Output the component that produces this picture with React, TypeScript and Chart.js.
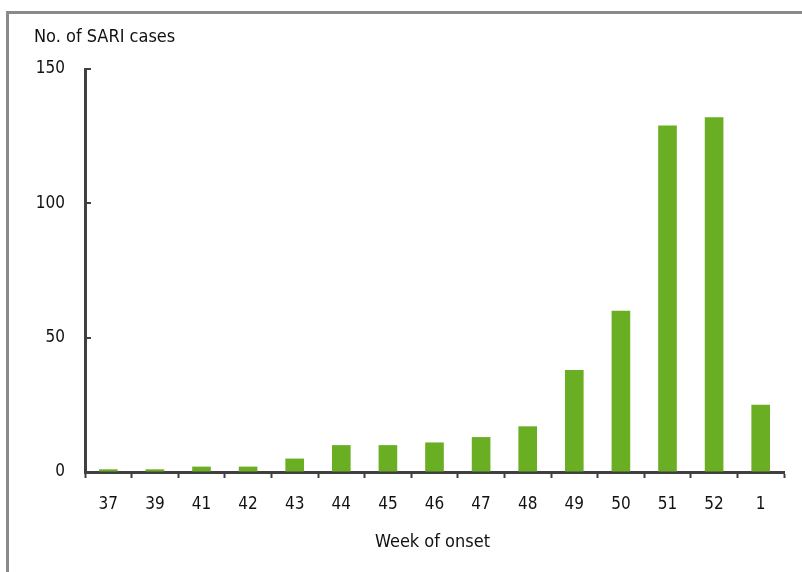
import React, { useEffect, useRef } from "react";
import { Chart, registerables } from "chart.js";

Chart.register(...registerables);

const weeks = ["37", "39", "41", "42", "43", "44", "45", "46", "47", "48", "49", "50", "51", "52", "1"];
const cases = [1, 1, 2, 2, 5, 10, 10, 11, 13, 17, 38, 60, 129, 132, 25];
const yTicks = [0, 50, 100, 150];
const yTitle = "No. of SARI cases";
const xTitle = "Week of onset";

const FONT = "'DejaVu Sans Condensed', 'DejaVu Sans', Verdana, sans-serif";

const decor = {
  id: "decor",
  beforeDraw(chart: any) {
    const ctx = chart.ctx;
    ctx.save();
    ctx.strokeStyle = "#8a8a8a";
    ctx.lineWidth = 3;
    ctx.beginPath();
    ctx.moveTo(7.5, 600);
    ctx.lineTo(7.5, 12.5);
    ctx.lineTo(820, 12.5);
    ctx.stroke();
    ctx.restore();
  },
  afterDraw(chart: any) {
    const ctx = chart.ctx;
    const y = chart.scales.y;
    const area = chart.chartArea;
    ctx.save();
    ctx.strokeStyle = "#404040";
    ctx.lineWidth = 2;
    for (const v of yTicks) {
      const py = Math.round(y.getPixelForValue(v));
      ctx.beginPath();
      ctx.moveTo(area.left, py);
      ctx.lineTo(area.left + 6, py);
      ctx.stroke();
    }
    ctx.fillStyle = "#111";
    ctx.font = `18px ${FONT}`;
    ctx.textBaseline = "alphabetic";
    ctx.textAlign = "left";
    ctx.fillText(yTitle, 34, 42);
    ctx.textAlign = "center";
    ctx.fillText(xTitle, (area.left + area.right) / 2 - 2, 547);
    ctx.restore();
  },
};

export default function App() {
  const ref = useRef<HTMLCanvasElement>(null);
  useEffect(() => {
    if (!ref.current) return;
    const chart = new Chart(ref.current, {
      type: "bar",
      data: {
        labels: weeks,
        datasets: [
          {
            data: cases,
            backgroundColor: "#6AAE24",
            borderWidth: 0,
            barPercentage: 0.4,
            categoryPercentage: 1,
          },
        ],
      },
      options: {
        animation: false,
        responsive: false,
        maintainAspectRatio: false,
        layout: { padding: { top: 69, right: 18, left: 0, bottom: 0 } },
        plugins: { legend: { display: false }, tooltip: { enabled: false }, title: { display: false } },
        scales: {
          x: {
            grid: {
              display: true,
              drawOnChartArea: false,
              drawTicks: true,
              tickLength: 6,
              tickWidth: 2,
              tickColor: "#404040",
              offset: true,
            },
            border: { display: true, color: "#404040", width: 3 },
            ticks: { color: "#111", font: { family: FONT, size: 17 }, padding: 16, maxRotation: 0 },
            afterFit(scale: any) {
              scale.height = 100;
            },
          },
          y: {
            min: 0,
            max: 150,
            afterBuildTicks(scale: any) {
              scale.ticks = yTicks.map((v) => ({ value: v }));
            },
            grid: { display: true, drawOnChartArea: false, drawTicks: false },
            border: { display: true, color: "#404040", width: 3 },
            ticks: { color: "#111", font: { family: FONT, size: 17 }, padding: 20 },
            afterFit(scale: any) {
              scale.width = 85;
            },
          },
        },
      },
      plugins: [decor],
    });
    return () => chart.destroy();
  }, []);
  return (
    <div style={{ position: "fixed", left: 0, top: 0, width: 802, height: 572, background: "#fff" }}>
      <canvas ref={ref} width={802} height={572} style={{ display: "block" }} />
    </div>
  );
}
